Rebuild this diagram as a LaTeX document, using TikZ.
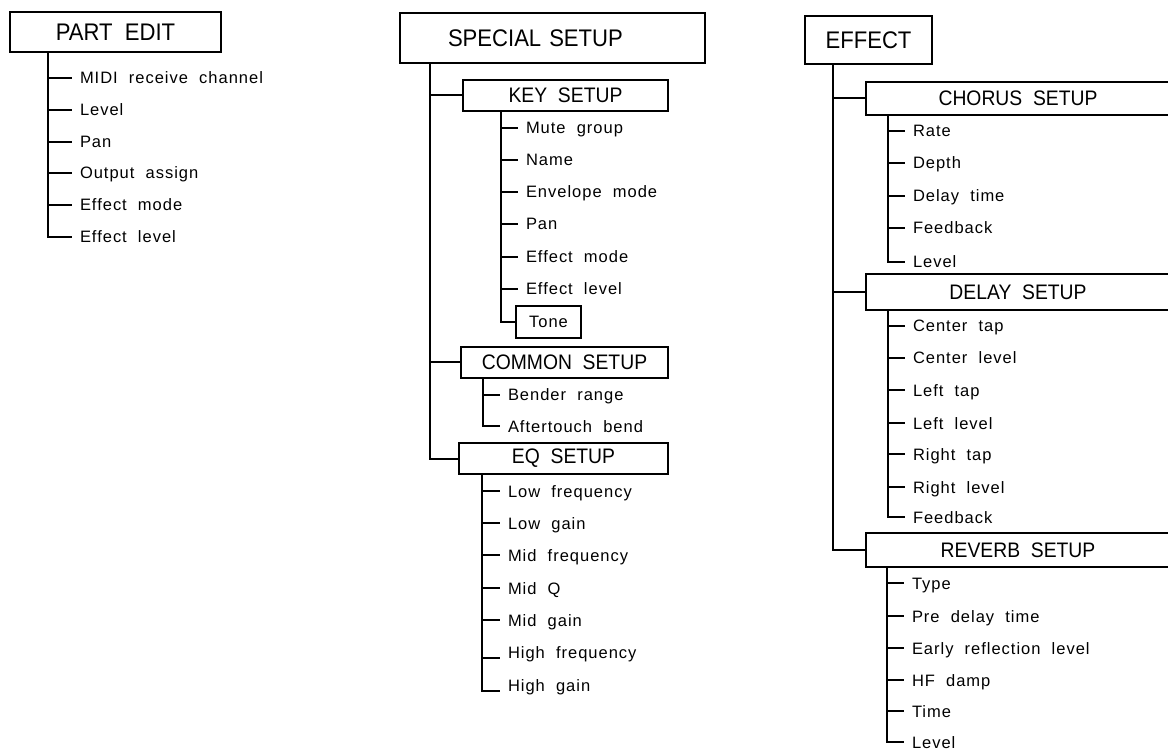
\documentclass[tikz,border=0pt]{standalone}
\usepackage{fontspec}
\setmainfont{Liberation Sans}
\newfontfamily\itemfont[LetterSpace=6,WordSpace=2]{Liberation Sans}
\newfontfamily\boxfont[FakeStretch=0.92,WordSpace=2]{Liberation Sans}
\newfontfamily\topfont[FakeStretch=0.92,WordSpace=2]{Liberation Sans}
\begin{document}
\begin{tikzpicture}[x=1pt,y=-1pt,line width=2pt,
  topbox/.style={draw,rectangle,inner sep=0pt,font=\topfont\fontsize{24}{28}\selectfont},
  subbox/.style={draw,rectangle,inner sep=0pt,font=\boxfont\fontsize{21}{25}\selectfont},
  item/.style={anchor=west,inner xsep=7pt,inner ysep=0pt,text height=12pt,text depth=0pt,font=\itemfont\fontsize{16.5}{19}\selectfont},
  itembox/.style={draw,rectangle,inner sep=0pt,text height=12pt,text depth=0pt,font=\itemfont\fontsize{16.5}{19}\selectfont},
  conn/.style={line width=2pt}]
\useasboundingbox (0,0) rectangle (1168,751);
\clip (0,0) rectangle (1168,751);

% ---------------- PART EDIT ----------------
\node[topbox,minimum width=211,minimum height=40] (pe) at (115.5,32) {PART EDIT};
\node[item] (pe1) at (72,78) {MIDI receive channel};
\node[item] (pe2) at (72,110) {Level};
\node[item] (pe3) at (72,142) {Pan};
\node[item] (pe4) at (72,173) {Output assign};
\node[item] (pe5) at (72,205) {Effect mode};
\node[item] (pe6) at (72,237) {Effect level};
\coordinate (pet) at ([xshift=39pt]pe.south west);
\draw[conn] (pet) |- (pe6.west);
\foreach \i in {1,...,5} \draw[conn] (pet |- pe\i.west) -- (pe\i.west);

% ---------------- SPECIAL SETUP ----------------
\node[topbox,minimum height=50,text width=209,inner xsep=48pt,align=left] (ss) at (552.5,38) {SPECIAL SETUP};
\coordinate (sst) at ([xshift=31pt]ss.south west);

\node[subbox,minimum width=205,minimum height=31] (key) at (565.5,95.5) {KEY SETUP};
\node[item] (key1) at (518,128) {Mute group};
\node[item] (key2) at (518,160) {Name};
\node[item] (key3) at (518,192) {Envelope mode};
\node[item] (key4) at (518,224) {Pan};
\node[item] (key5) at (518,257) {Effect mode};
\node[item] (key6) at (518,289) {Effect level};
\node[itembox,minimum width=65,minimum height=32] (tone) at (548.5,322) {Tone};
\coordinate (keyt) at ([xshift=39pt]key.south west);
\draw[conn] (keyt) |- (tone.west);
\foreach \i in {1,...,6} \draw[conn] (keyt |- key\i.west) -- (key\i.west);

\node[subbox,minimum width=207,minimum height=31] (com) at (564.5,362.5) {COMMON SETUP};
\node[item] (com1) at (500,395) {Bender range};
\node[item] (com2) at (500,426) {Aftertouch bend};
\coordinate (comt) at ([xshift=23pt]com.south west);
\draw[conn] (comt) |- (com2.west);
\draw[conn] (comt |- com1.west) -- (com1.west);

\node[subbox,minimum width=209,minimum height=31] (eq) at (563.5,458.5) {EQ SETUP};
\node[item] (eq1) at (500,491) {Low frequency};
\node[item] (eq2) at (500,523) {Low gain};
\node[item] (eq3) at (500,555) {Mid frequency};
\node[item] (eq4) at (500,588) {Mid Q};
\node[item] (eq5) at (500,620) {Mid gain};
\node[item] (eq6) at (500,652) {High frequency};
\node[item] (eq7) at (500,685) {High gain};
\coordinate (eq6b) at ([yshift=-6pt]eq6.west);
\coordinate (eq7b) at ([yshift=-6pt]eq7.west);
\coordinate (eqt) at ([xshift=24pt]eq.south west);
\draw[conn] (eqt) |- (eq7b);
\foreach \i in {1,...,5} \draw[conn] (eqt |- eq\i.west) -- (eq\i.west);
\draw[conn] (eqt |- eq6b) -- (eq6b);

\draw[conn] (sst) |- (eq.west);
\draw[conn] (sst |- key.west) -- (key.west);
\draw[conn] (sst |- com.west) -- (com.west);

% ---------------- EFFECT ----------------
\node[topbox,minimum width=127,minimum height=48] (ef) at (868.5,40) {EFFECT};
\coordinate (eft) at ([xshift=29pt]ef.south west);

\node[subbox,minimum width=304,minimum height=33] (ch) at (1018,98.5) {CHORUS SETUP};
\node[item] (ch1) at (905,131) {Rate};
\node[item] (ch2) at (905,163) {Depth};
\node[item] (ch3) at (905,196) {Delay time};
\node[item] (ch4) at (905,228) {Feedback};
\node[item] (ch5) at (905,262) {Level};
\coordinate (cht) at ([xshift=23pt]ch.south west);
\draw[conn] (cht) |- (ch5.west);
\foreach \i in {1,...,4} \draw[conn] (cht |- ch\i.west) -- (ch\i.west);

\node[subbox,minimum width=304,minimum height=36] (dl) at (1018,292) {DELAY SETUP};
\node[item] (dl1) at (905,326) {Center tap};
\node[item] (dl2) at (905,358) {Center level};
\node[item] (dl3) at (905,390) {Left tap};
\node[item] (dl4) at (905,423) {Left level};
\node[item] (dl5) at (905,454) {Right tap};
\node[item] (dl6) at (905,487) {Right level};
\node[item] (dl7) at (905,517) {Feedback};
\coordinate (dlt) at ([xshift=23pt]dl.south west);
\draw[conn] (dlt) |- (dl7.west);
\foreach \i in {1,...,6} \draw[conn] (dlt |- dl\i.west) -- (dl\i.west);

\node[subbox,minimum width=304,minimum height=34] (rv) at (1018,550) {REVERB SETUP};
\node[item] (rv1) at (904,583) {Type};
\node[item] (rv2) at (904,616) {Pre delay time};
\node[item] (rv3) at (904,648) {Early reflection level};
\node[item] (rv4) at (904,680) {HF damp};
\node[item] (rv5) at (904,711) {Time};
\node[item] (rv6) at (904,742) {Level};
\coordinate (rvt) at ([xshift=22pt]rv.south west);
\draw[conn] (rvt) |- (rv6.west);
\foreach \i in {1,...,5} \draw[conn] (rvt |- rv\i.west) -- (rv\i.west);

\draw[conn] (eft) |- (rv.west);
\draw[conn] (eft |- ch.west) -- (ch.west);
\draw[conn] (eft |- dl.west) -- (dl.west);
\end{tikzpicture}
\end{document}
